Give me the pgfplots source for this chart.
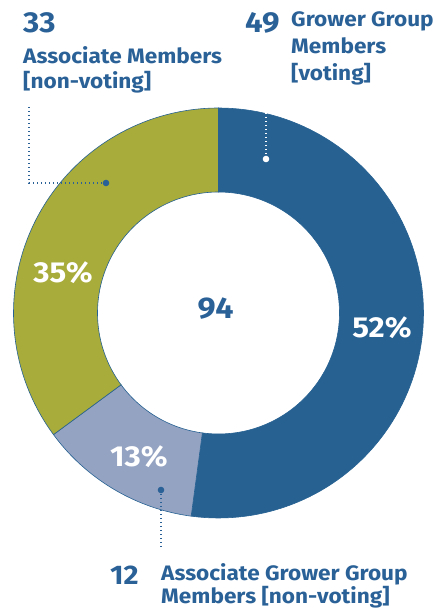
\documentclass[border=0pt]{standalone}
\usepackage{pgfplots}
\pgfplotsset{compat=1.18}
\usepackage{pgfplotstable}
\usepackage{fontspec}
\setmainfont{Fira Sans}[FakeStretch=1.08]
\definecolor{cblue}{HTML}{266192}
\definecolor{colive}{HTML}{A8AC3A}
\definecolor{cgray}{HTML}{94A3C2}
\definecolor{tblue}{HTML}{2A6197}
\pgfplotstableread{
label value
GGM 49
AGGM 12
AM 33
}\donut
\def\cx{218.5}\def\cy{295}\def\Ro{205}\def\Ri{121}
\newcommand\donutwedge[3]{%
\addplot[fill=#3, draw=cblue, line width=0.6bp, domain=0:3, samples=301, variable=\t]
 ({\cx+(\Ro-(\Ro-\Ri)*min(max(\t-1,0),1))*cos(\t<=2 ? (#1)+((#2)-(#1))*min(\t,1) : (#2)-((#2)-(#1))*min(\t-2,1))},
  {\cy+(\Ro-(\Ro-\Ri)*min(max(\t-1,0),1))*sin(\t<=2 ? (#1)+((#2)-(#1))*min(\t,1) : (#2)-((#2)-(#1))*min(\t-2,1))}) -- cycle;}
\begin{document}
\begin{tikzpicture}
\pgfplotstablegetelem{0}{value}\of\donut \let\va\pgfplotsretval
\pgfplotstablegetelem{1}{value}\of\donut \let\vb\pgfplotsretval
\pgfplotstablegetelem{2}{value}\of\donut \let\vc\pgfplotsretval
\pgfmathsetmacro\total{\va+\vb+\vc}
\pgfmathsetmacro\aA{90}
\pgfmathsetmacro\aB{90-(\va/\total)*360}
\pgfmathsetmacro\aC{\aB-(\vb/\total)*360}
\pgfmathsetmacro\aD{\aC-(\vc/\total)*360}
\begin{axis}[width=433bp, height=608bp, scale only axis, xmin=0, xmax=433, ymin=0, ymax=608, hide axis, clip=false]
\path (axis cs:0,0) rectangle (axis cs:433,608);
\donutwedge{\aA}{\aB}{cblue}
\donutwedge{\aB}{\aC}{cgray}
\donutwedge{\aC}{\aD}{colive}
% centre and percentages
\node[anchor=base, inner sep=0, text=tblue, font=\bfseries\fontsize{30}{34}\selectfont] at (axis cs:215.5,289) {94};
\node[anchor=base, inner sep=0, text=white, font=\bfseries\fontsize{29}{32}\selectfont] at (axis cs:63,325) {35\%};
\node[anchor=base, inner sep=0, text=white, font=\bfseries\fontsize{29}{32}\selectfont] at (axis cs:382,270) {52\%};
\node[anchor=base, inner sep=0, text=white, font=\bfseries\fontsize{29}{32}\selectfont] at (axis cs:139,141) {13\%};
% leader lines
\draw[tblue, line width=1.2bp, dash pattern=on 1.2bp off 2.8bp] (axis cs:29,501) -- (axis cs:29,425) -- (axis cs:106,425);
\fill[tblue] (axis cs:106,425) circle[radius=3.3bp];
\draw[white, line width=1.2bp, dash pattern=on 1.2bp off 2.8bp] (axis cs:266,495) -- (axis cs:266,449);
\fill[white] (axis cs:266,449) circle[radius=3.3bp];
\draw[tblue, line width=1.2bp, dash pattern=on 1.2bp off 2.8bp] (axis cs:161,118) -- (axis cs:161,59);
\fill[tblue] (axis cs:161,118) circle[radius=3.3bp];
% labels
\node[anchor=base west, inner sep=0, text=tblue, font=\bfseries\fontsize{29}{32}\selectfont] at (axis cs:23,575) {33};
\node[anchor=base west, inner sep=0, text=tblue, font=\bfseries\fontsize{21}{24}\selectfont] at (axis cs:23,544) {Associate Members};
\node[anchor=base west, inner sep=0, text=tblue, font=\bfseries\fontsize{21}{24}\selectfont] at (axis cs:23,519) {[non-voting]};
\node[anchor=base west, inner sep=0, text=tblue, font=\bfseries\fontsize{29}{32}\selectfont] at (axis cs:245,575) {49};
\node[anchor=base west, inner sep=0, text=tblue, font=\bfseries\fontsize{21}{24}\selectfont] at (axis cs:291,581) {Grower Group};
\node[anchor=base west, inner sep=0, text=tblue, font=\bfseries\fontsize{21}{24}\selectfont] at (axis cs:291,554) {Members};
\node[anchor=base west, inner sep=0, text=tblue, font=\bfseries\fontsize{21}{24}\selectfont] at (axis cs:291,527) {[voting]};
\node[anchor=base west, inner sep=0, text=tblue, font=\bfseries\fontsize{27}{30}\selectfont] at (axis cs:110,24) {12};
\node[anchor=base west, inner sep=0, text=tblue, font=\bfseries\fontsize{21}{24}\selectfont] at (axis cs:161,28) {Associate Grower Group};
\node[anchor=base west, inner sep=0, text=tblue, font=\bfseries\fontsize{21}{24}\selectfont] at (axis cs:161,5) {Members [non-voting]};
\end{axis}
\end{tikzpicture}
\end{document}
